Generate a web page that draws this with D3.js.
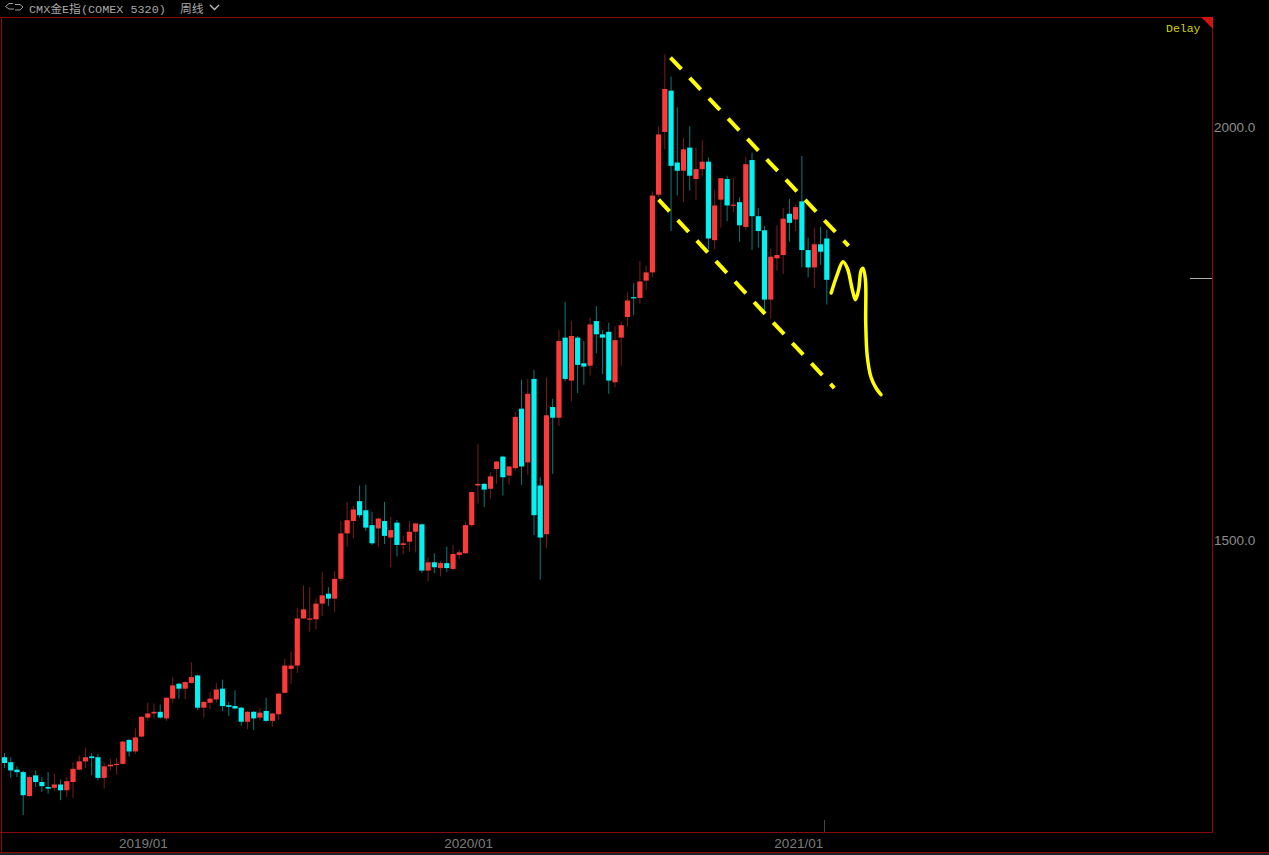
<!DOCTYPE html>
<html><head><meta charset="utf-8">
<script src="https://cdn.jsdelivr.net/npm/d3@7/dist/d3.min.js"></script>
<style>html,body{margin:0;padding:0;background:#000;overflow:hidden}svg{display:block}</style>
</head><body><svg id="c" width="1269" height="855"></svg>
<script>
const open=[1237,1231,1222,1219,1190,1215,1207,1201,1200,1204,1197,1207,1222,1232,1238,1237,1212,1226,1228,1229,1258,1244,1262,1285,1290,1292,1284,1308,1326,1320,1327,1336,1297,1303,1307,1320,1300,1299,1297,1280,1292,1285,1293,1281,1289,1315,1344,1348,1405,1404,1404,1423,1435,1429,1453,1508,1523,1547,1536,1518,1514,1523,1503,1521,1494,1498,1510,1519,1463,1473,1466,1472,1465,1482,1484,1518,1566,1568,1562,1586,1601,1578,1587,1659,1594,1695,1566,1507,1661,1648,1745,1693,1745,1714,1711,1765,1749,1752,1691,1745,1770,1794,1793,1814,1824,1918,1994,2044,1957,1947,1975,1937,1949,1958,1863,1912,1937,1905,1909,1879,1960,1892,1875,1791,1841,1845,1895,1888,1910,1851,1830,1858,1865];
const close=[1230,1221,1219,1191,1213,1207,1202,1199,1204,1197,1208,1223,1232,1237,1236,1212,1226,1228,1229,1256,1244,1261,1286,1290,1292,1285,1309,1324,1320,1328,1334,1297,1304,1308,1319,1299,1298,1296,1280,1292,1284,1291,1281,1290,1314,1348,1348,1405,1416,1405,1423,1433,1429,1453,1508,1524,1537,1530,1515,1496,1526,1505,1512,1494,1496,1510,1520,1463,1473,1467,1472,1466,1483,1485,1518,1558,1568,1561,1577,1595,1576,1589,1649,1589,1677,1530,1503,1651,1648,1741,1695,1747,1712,1710,1761,1749,1745,1693,1742,1760,1790,1793,1813,1824,1917,1991,2046,1953,1947,1973,1941,1949,1958,1865,1905,1938,1905,1906,1881,1955,1892,1874,1791,1843,1845,1889,1884,1903,1851,1830,1858,1849,1815];
const high=[1242,1237,1226,1221,1215,1221,1213,1219,1217,1210,1213,1231,1239,1248,1242,1241,1230,1235,1236,1257,1259,1272,1287,1303,1302,1301,1310,1334,1327,1329,1352,1337,1305,1316,1327,1331,1304,1318,1298,1293,1293,1297,1309,1291,1315,1356,1365,1418,1445,1443,1429,1461,1443,1462,1523,1546,1541,1566,1567,1534,1527,1546,1528,1524,1505,1523,1521,1520,1479,1484,1474,1492,1494,1488,1522,1559,1616,1569,1582,1596,1602,1590,1655,1694,1695,1706,1576,1697,1671,1754,1788,1765,1747,1741,1769,1783,1754,1763,1759,1764,1800,1811,1838,1832,1922,2001,2088,2061,2024,1987,2001,1975,1984,1963,1924,1938,1941,1938,1915,1964,1969,1902,1880,1853,1881,1902,1913,1906,1965,1866,1878,1879,1875];
const low=[1224,1212,1213,1167,1189,1201,1195,1193,1196,1185,1189,1188,1221,1224,1215,1209,1199,1221,1216,1228,1238,1241,1261,1281,1284,1284,1281,1303,1308,1307,1326,1294,1285,1295,1303,1293,1287,1295,1275,1271,1270,1282,1280,1274,1282,1314,1326,1339,1405,1389,1392,1408,1420,1413,1450,1492,1502,1527,1511,1494,1492,1495,1467,1480,1483,1486,1485,1460,1450,1460,1456,1461,1464,1477,1483,1516,1544,1540,1550,1568,1554,1567,1584,1567,1579,1506,1452,1490,1580,1638,1692,1668,1678,1688,1699,1726,1701,1677,1685,1711,1758,1772,1786,1803,1818,1915,1973,1874,1917,1909,1923,1912,1940,1852,1852,1878,1886,1897,1861,1875,1851,1854,1774,1768,1826,1822,1861,1874,1830,1818,1805,1833,1785];
const priceTicks=[2000,1500];
const dateLabels=["2019/01","2020/01","2021/01"];
const dateLabelBars=[22.3,74.5,127.5];
const upperChannelBars=[106.9,135.5], upperChannelPrices=[2084,1856];
const lowerChannelBars=[105,133.2], lowerChannelPrices=[1912,1684];
const sketchBars=[132.7,133.66,134.6,135.3,136.1,136.6,137.1,137.5,137.8,138.2,138.25,138.5,139.1,139.9,140.7];
const sketchPrices=[1799,1821,1837,1829,1803,1791,1803,1826,1829,1815,1763,1722,1697,1684,1676];
const lastPrice=1816;

const svg=d3.select("#c");
const x=d3.scaleLinear().domain([0,132]).range([4.5,826.8]);
const y=d3.scaleLinear().domain([1500,2000]).range([540,127]);
const RED="#fb3a3a",CYAN="#00f2f2",RED_W="#7a1c1c",CYAN_W="#0a7a7a",FRAME="#8a0a0a";

svg.append("rect").attr("width",1269).attr("height",855).attr("fill","#000");
svg.append("rect").attr("y",853).attr("width",1269).attr("height",2).attr("fill","#222");

// frame
const frame=svg.append("g").attr("stroke",FRAME).attr("stroke-width",1).attr("shape-rendering","crispEdges");
[[0,17.5,1212,17.5],[1.5,17,1.5,852],[1212.5,17,1212.5,833],[0,832.5,1212,832.5],[0,852.5,1269,852.5]].forEach(d=>
  frame.append("line").attr("x1",d[0]).attr("y1",d[1]).attr("x2",d[2]).attr("y2",d[3]));
svg.append("path").attr("d","M1201,17L1213,17L1213,29Z").attr("fill","#d01510");

// candles
const bars=d3.range(open.length);
const g=svg.append("g");
g.selectAll("line.w").data(bars).join("line").attr("class","w")
  .attr("x1",i=>x(i)).attr("x2",i=>x(i)).attr("y1",i=>y(high[i])).attr("y2",i=>y(low[i]))
  .attr("stroke",i=>close[i]>=open[i]?RED_W:CYAN_W).attr("stroke-width",1);
g.selectAll("rect.b").data(bars).join("rect").attr("class","b")
  .attr("x",i=>x(i)-2.6).attr("width",5.2)
  .attr("y",i=>y(Math.max(open[i],close[i])))
  .attr("height",i=>Math.max(1.2,Math.abs(y(open[i])-y(close[i]))))
  .attr("fill",i=>close[i]>=open[i]?RED:CYAN);

// price axis
const ya=svg.append("g").attr("transform","translate(1214,0)")
  .call(d3.axisRight(y).tickValues(priceTicks).tickFormat(d3.format(".1f")).tickSize(0).tickPadding(0));
ya.select(".domain").remove();
ya.selectAll("text").attr("fill","#8c8c8c").attr("font-family","Liberation Sans").attr("font-size",13.5);

// date labels
svg.append("g").selectAll("text").data(dateLabels).join("text")
  .attr("x",(d,i)=>x(dateLabelBars[i])).attr("y",848).attr("text-anchor","middle")
  .attr("fill","#7c7c7c").attr("font-family","Liberation Sans").attr("font-size",13.5).text(d=>d);

// last price marker and volume tick
svg.append("line").attr("x1",1190).attr("x2",1212).attr("y1",y(lastPrice)).attr("y2",y(lastPrice))
  .attr("stroke","#b0b0b0").attr("stroke-width",1).attr("shape-rendering","crispEdges");
svg.append("line").attr("x1",824.5).attr("x2",824.5).attr("y1",820).attr("y2",832).attr("stroke","#444");

// annotations
const seg=(bs,ps)=>svg.append("line").attr("x1",x(bs[0])).attr("y1",y(ps[0])).attr("x2",x(bs[1])).attr("y2",y(ps[1]))
  .attr("stroke","#ffff00").attr("stroke-width",4).attr("stroke-dasharray","16 12");
seg(upperChannelBars,upperChannelPrices);
seg(lowerChannelBars,lowerChannelPrices);
svg.append("path").datum(sketchBars.map((b,i)=>[b,sketchPrices[i]]))
  .attr("d",d3.line().x(d=>x(d[0])).y(d=>y(d[1])).curve(d3.curveCatmullRom.alpha(.5)))
  .attr("fill","none").attr("stroke","#ffff00").attr("stroke-width",3.5).attr("stroke-linecap","round");

// header
const hdr=svg.append("g").attr("font-family","'Liberation Mono','Noto Sans CJK SC'").attr("fill","#a8a8a8").attr("font-size",11.8);
hdr.append("text").attr("x",29).attr("y",13).text("CMX金E指(COMEX 5320)");
hdr.append("text").attr("x",180).attr("y",13).attr("font-family","Noto Sans CJK SC").text("周线");
svg.append("path").attr("d","M210,5L214.5,9.5L219,5").attr("fill","none").attr("stroke","#c0c0c0").attr("stroke-width",1.3);
svg.append("path").attr("d","M13,3.5H9L5.5,6.5L9,9H14M15,4.5H20L23,7L20,10H15").attr("fill","none").attr("stroke","#a0a0a0").attr("stroke-width",1);
svg.append("text").attr("x",1166).attr("y",32).attr("fill","#d4d400").attr("font-family","Liberation Mono").attr("font-size",11.5).text("Delay");
</script></body></html>
